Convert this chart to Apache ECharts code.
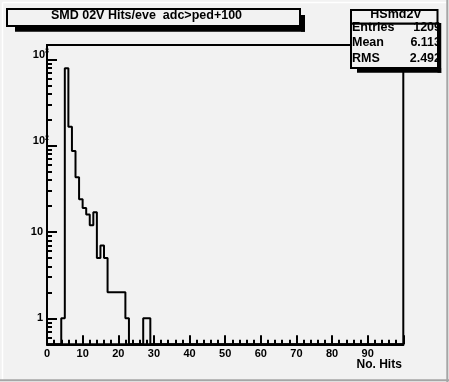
<!DOCTYPE html>
<html>
<head>
<meta charset="utf-8">
<script src="https://cdn.jsdelivr.net/npm/echarts@6/dist/echarts.min.js"></script>
<style>
html,body{margin:0;padding:0;background:#f2f2f2;}
#chart{width:449px;height:382px;}
</style>
</head>
<body>
<div id="chart"></div>
<script>
// ---- data (histogram HSmd2V, 100 bins of width 1 from 0 to 100) ----
const BIN_LOW_EDGES = [
  0,1,2,3,4,5,6,7,8,9,10,11,12,13,14,15,16,17,18,19,
  20,21,22,23,24,25,26,27,28,29,30,31,32,33,34,35,36,37,38,39,
  40,41,42,43,44,45,46,47,48,49,50,51,52,53,54,55,56,57,58,59,
  60,61,62,63,64,65,66,67,68,69,70,71,72,73,74,75,76,77,78,79,
  80,81,82,83,84,85,86,87,88,89,90,91,92,93,94,95,96,97,98,99
];
const BIN_COUNTS = [
  0,0,0,0,1,790,166,87,43,24,19,16,12,17,5,7,5,2,2,2,
  2,2,1,0,0,0,0,1,1,0,0,0,0,0,0,0,0,0,0,0,
  0,0,0,0,0,0,0,0,0,0,0,0,0,0,0,0,0,0,0,0,
  0,0,0,0,0,0,0,0,0,0,0,0,0,0,0,0,0,0,0,0,
  0,0,0,0,0,0,0,0,0,0,0,0,0,0,0,0,0,0,0,0
];
const X_UPPER_EDGE = 100;
const X_LABELS = [0,10,20,30,40,50,60,70,80,90];
const Y_DECADES = [1,10,100,1000];
const Y_MINOR_TICKS = [0.6,0.7,0.8,0.9,2,3,4,5,6,7,8,9,20,30,40,50,60,70,80,90,200,300,400,500,600,700,800,900];
const Y_MIN = 0.5;
const Y_MAX = 1470;
const TITLE_TEXT = 'SMD 02V Hits/eve  adc>ped+100';
const STATS_NAME = 'HSmd2V';
const STATS_ROWS = ['Entries','Mean','RMS'];
const STATS_VALUES = ['1209','6.113','2.492'];
const X_TITLE = 'No. Hits';

// ---- build step line points from bins (empty bins sit on the axis floor) ----
const points = BIN_LOW_EDGES.map((x, i) => [x, BIN_COUNTS[i] > 0 ? BIN_COUNTS[i] : Y_MIN]);
points.push([X_UPPER_EDGE, BIN_COUNTS[BIN_COUNTS.length - 1] > 0 ? BIN_COUNTS[BIN_COUNTS.length - 1] : Y_MIN]);

const FONT = '"Liberation Sans", Arial, Helvetica, sans-serif';
const BG = '#f2f2f2';

const chart = echarts.init(document.getElementById('chart'), null, {renderer: 'canvas'});

const baseTxt = {fontFamily: FONT, fontWeight: 'bold', color: '#000'};

const option = {
  backgroundColor: BG,
  animation: false,
  grid: {
    left: 47, right: 45.7, top: 45, bottom: 37.7,
    show: true, borderColor: '#000', borderWidth: 2, backgroundColor: 'transparent'
  },
  xAxis: {
    type: 'value', min: 0, max: X_UPPER_EDGE, interval: 10,
    axisLine: {show: true, onZero: false, lineStyle: {color: '#000', width: 2}},
    axisTick: {show: true, inside: true, length: 9, lineStyle: {color: '#000', width: 2}},
    minorTick: {show: true, splitNumber: 5, length: 4.5, lineStyle: {color: '#000', width: 2}},
    splitLine: {show: false},
    minorSplitLine: {show: false},
    axisLabel: {
      show: true, margin: 4, fontSize: 11, fontWeight: 'bold', fontFamily: FONT, color: '#000',
      showMinLabel: true, showMaxLabel: true,
      customValues: X_LABELS,
      formatter: v => String(v)
    },
    name: X_TITLE,
    nameLocation: 'end',
    nameGap: -1.5,
    nameMoveOverlap: false,
    nameTextStyle: {fontSize: 12, fontWeight: 'bold', fontFamily: FONT, color: '#000',
      align: 'right', verticalAlign: 'top', padding: [14, 0, 0, 0]}
  },
  yAxis: [
    {
      type: 'log', logBase: 10, min: Y_MIN, max: Y_MAX, position: 'left',
      axisLine: {show: true, onZero: false, lineStyle: {color: '#000', width: 2}},
      axisTick: {show: true, inside: true, length: 10, customValues: Y_DECADES,
        lineStyle: {color: '#000', width: 2}},
      splitLine: {show: false},
      axisLabel: {
        show: true, margin: -2, customValues: Y_DECADES,
        formatter: function (v) {
          const r = Math.round(v);
          if (r === 100) return '{b|10}{s|2}';
          if (r === 1000) return '{b|10}{s|3}';
          return '{a|' + r + '}';
        },
        rich: {
          a: Object.assign({}, baseTxt, {fontSize: 11, padding: [0, 6, 0, 0]}),
          b: Object.assign({}, baseTxt, {fontSize: 11, padding: [0, 0, 9, 0]}),
          s: Object.assign({}, baseTxt, {fontSize: 7, padding: [0, 0, 16, 0]})
        }
      }
    },
    {
      type: 'log', logBase: 10, min: Y_MIN, max: Y_MAX, position: 'left', offset: 0,
      axisLine: {show: false},
      axisTick: {show: true, inside: true, length: 5, customValues: Y_MINOR_TICKS,
        lineStyle: {color: '#000', width: 2}},
      axisLabel: {show: false},
      splitLine: {show: false}
    }
  ],
  series: [{
    type: 'line',
    xAxisIndex: 0, yAxisIndex: 0,
    step: 'end',
    data: points,
    showSymbol: false,
    symbol: 'none',
    lineStyle: {color: '#000', width: 2},
    clip: true,
    z: 3
  }],
  graphic: [
    // canvas border (3D look)
    {type: 'line', z: 200, shape: {x1: 2.5, y1: 2.5, x2: 446.5, y2: 2.5}, style: {stroke: '#ffffff', lineWidth: 1.5}},
    {type: 'line', z: 200, shape: {x1: 2.5, y1: 2.5, x2: 2.5, y2: 380}, style: {stroke: '#ffffff', lineWidth: 1.5}},
    {type: 'line', z: 200, shape: {x1: 447.3, y1: 0, x2: 447.3, y2: 382}, style: {stroke: '#a6a6a6', lineWidth: 2}},
    {type: 'line', z: 200, shape: {x1: 0, y1: 380.2, x2: 449, y2: 380.2}, style: {stroke: '#a6a6a6', lineWidth: 2}},

    // title box with shadow
    {type: 'rect', z: 100, shape: {x: 15, y: 27, width: 290, height: 4.7}, style: {fill: '#000'}},
    {type: 'rect', z: 100, shape: {x: 301, y: 15, width: 4, height: 16.7}, style: {fill: '#000'}},
    {type: 'rect', z: 101, shape: {x: 7, y: 9, width: 293, height: 17}, style: {fill: BG, stroke: '#000', lineWidth: 2}},
    {type: 'text', z: 102, x: 146.5, y: 16,
      style: {text: TITLE_TEXT, fill: '#000', font: 'bold 12.5px ' + FONT,
        align: 'center', verticalAlign: 'middle', textAlign: 'center', textVerticalAlign: 'middle'}},

    // stats box
    {type: 'rect', z: 101, shape: {x: 351, y: 23.5, width: 87, height: 44.5}, style: {fill: BG, stroke: '#000', lineWidth: 2}},
    {type: 'rect', z: 101, shape: {x: 351, y: 10, width: 86.5, height: 13.5}, style: {fill: BG, stroke: '#000', lineWidth: 2}},
    {type: 'text', z: 102, x: 396, y: 14.5,
      style: {text: STATS_NAME, fill: '#000', font: 'bold 12.5px ' + FONT,
        align: 'center', verticalAlign: 'middle', textAlign: 'center', textVerticalAlign: 'middle'}},
    {type: 'text', z: 102, x: 352, y: 27.5,
      style: {text: STATS_ROWS[0], fill: '#000', font: 'bold 12.5px ' + FONT,
        align: 'left', verticalAlign: 'middle', textAlign: 'left', textVerticalAlign: 'middle'}},
    {type: 'text', z: 102, x: 352, y: 43,
      style: {text: STATS_ROWS[1], fill: '#000', font: 'bold 12.5px ' + FONT,
        align: 'left', verticalAlign: 'middle', textAlign: 'left', textVerticalAlign: 'middle'}},
    {type: 'text', z: 102, x: 352, y: 58.8,
      style: {text: STATS_ROWS[2], fill: '#000', font: 'bold 12.5px ' + FONT,
        align: 'left', verticalAlign: 'middle', textAlign: 'left', textVerticalAlign: 'middle'}},
    {type: 'text', z: 102, x: 441, y: 27.5,
      style: {text: STATS_VALUES[0], fill: '#000', font: 'bold 12.5px ' + FONT,
        align: 'right', verticalAlign: 'middle', textAlign: 'right', textVerticalAlign: 'middle'}},
    {type: 'text', z: 102, x: 441, y: 43,
      style: {text: STATS_VALUES[1], fill: '#000', font: 'bold 12.5px ' + FONT,
        align: 'right', verticalAlign: 'middle', textAlign: 'right', textVerticalAlign: 'middle'}},
    {type: 'text', z: 102, x: 441, y: 58.8,
      style: {text: STATS_VALUES[2], fill: '#000', font: 'bold 12.5px ' + FONT,
        align: 'right', verticalAlign: 'middle', textAlign: 'right', textVerticalAlign: 'middle'}},
    // stats shadow (drawn over the value text, clipping it like the original)
    {type: 'rect', z: 103, shape: {x: 437.5, y: 23, width: 4, height: 49.7}, style: {fill: '#000'}},
    {type: 'rect', z: 103, shape: {x: 357, y: 68, width: 84.5, height: 4.7}, style: {fill: '#000'}},
    {type: 'rect', z: 103, shape: {x: 441.5, y: 10, width: 5, height: 62.7}, style: {fill: BG}}
  ]
};

chart.setOption(option);
</script>
</body>
</html>
